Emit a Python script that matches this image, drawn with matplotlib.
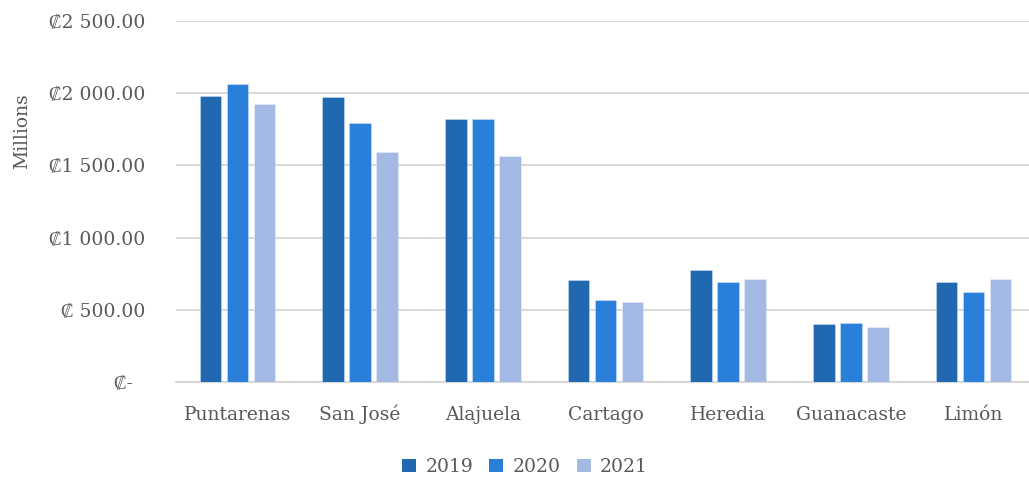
import numpy as np
import matplotlib
matplotlib.use("Agg")
import matplotlib.pyplot as plt
from matplotlib.patches import Patch

plt.rcParams['font.family'] = ['DejaVu Serif', 'Liberation Serif', 'DejaVu Sans']

provinces = ["Puntarenas", "San José", "Alajuela", "Cartago", "Heredia", "Guanacaste", "Limón"]
years = ["2019", "2020", "2021"]
values_2019 = [1982, 1972, 1820, 706, 776, 399, 690]
values_2020 = [2064, 1792, 1820, 568, 690, 409, 621]
values_2021 = [1926, 1593, 1565, 552, 711, 379, 711]
y_ticks = [0, 500, 1000, 1500, 2000, 2500]
y_tick_labels = ["₡-  ", "₡ 500.00", "₡1 000.00", "₡1 500.00", "₡2 000.00", "₡2 500.00"]

colors = ["#2068B0", "#2A80D8", "#A4B9E4"]
text_color = "#595959"
grid_color = "#D9D9D9"
fs = 13.5

W, H = 1029, 482
fig = plt.figure(figsize=(W / 100, H / 100), dpi=100)
ax = fig.add_axes([176 / W, 100 / H, 859 / W, 361 / H])

x = np.arange(len(provinces))
step = 0.22
width = 0.175
for i, (vals, c, lab) in enumerate(zip([values_2019, values_2020, values_2021], colors, years)):
    ax.bar(x + (i - 1) * step, vals, width=width, color=c, label=lab,
           edgecolor=(1, 1, 1, 0.35), linewidth=0.6, zorder=3)

ax.set_xlim(-0.5, len(provinces) - 0.5)
ax.set_ylim(0, 2500)
ax.set_yticks(y_ticks)
ax.set_yticklabels(y_tick_labels)
ax.set_xticks(x)
ax.set_xticklabels(provinces)
ax.tick_params(axis='both', length=0, labelsize=fs, colors=text_color)
ax.tick_params(axis='y', pad=22)
ax.tick_params(axis='x', pad=27.5)
for lab in ax.get_yticklabels():
    lab.set_color(text_color)
for lab in ax.get_xticklabels():
    lab.set_color(text_color)
    lab.set_verticalalignment('baseline')

ax.yaxis.grid(True, color=grid_color, linewidth=1.5, zorder=0)
ax.set_axisbelow(True)
for s in ["top", "right", "left"]:
    ax.spines[s].set_visible(False)
ax.spines["bottom"].set_color(grid_color)
ax.spines["bottom"].set_linewidth(1.5)

fig.text(22 / W, 1 - 131 / H, "Millions", rotation=90, ha='center', va='center',
         fontsize=fs, color=text_color)

handles = [Patch(facecolor=c, edgecolor='none') for c in colors]
fig.legend(handles, years, loc='center', bbox_to_anchor=(525 / W, 1 - 467 / H),
           ncol=3, frameon=False, fontsize=fs, labelcolor=text_color,
           handlelength=0.75, handleheight=0.75, handletextpad=0.5, columnspacing=0.85)

fig.savefig("out.png", dpi=100)
